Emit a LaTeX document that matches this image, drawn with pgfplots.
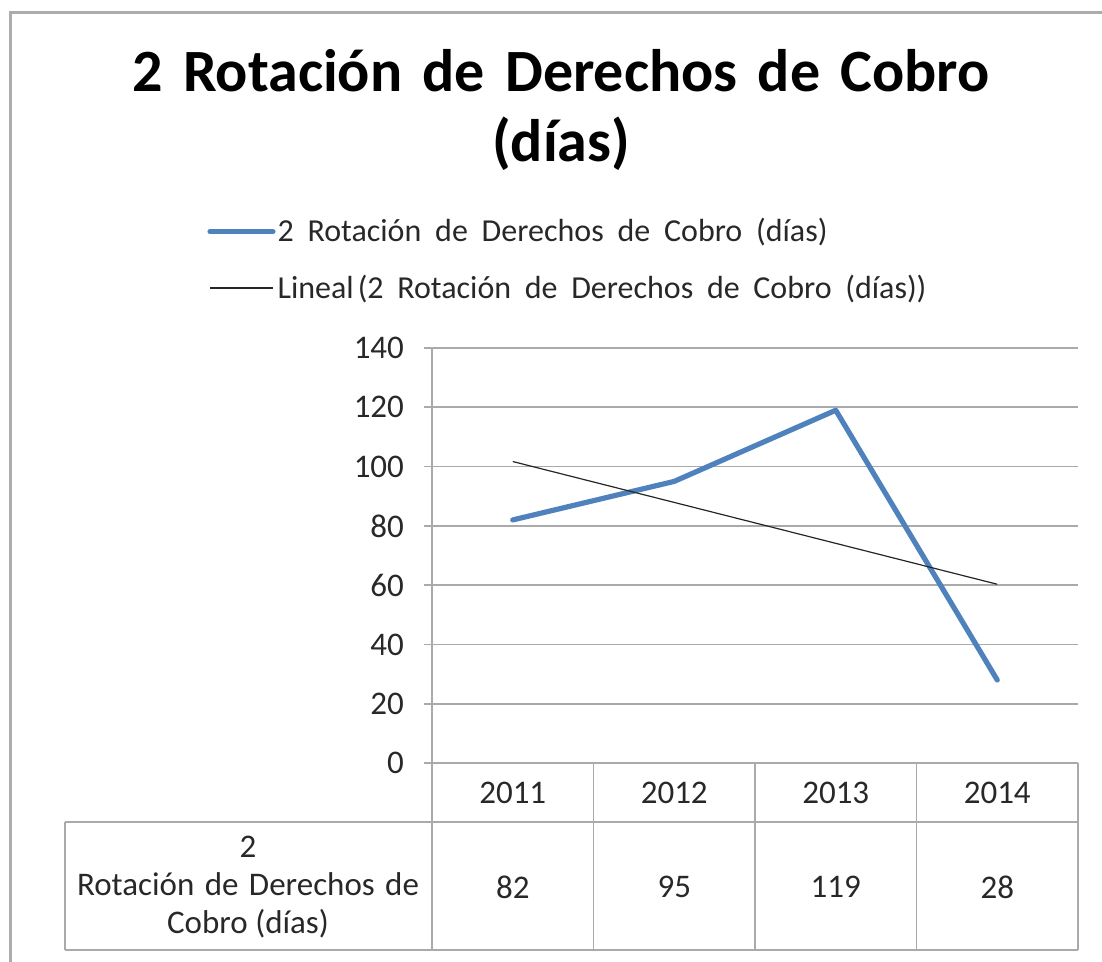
\documentclass[border=0pt]{standalone}
\usepackage{fontspec}
\setmainfont{Carlito}
\usepackage{pgfplots}
\pgfplotsset{compat=1.18}

\definecolor{serieblue}{RGB}{79,129,189}
\definecolor{gridgray}{RGB}{170,170,170}
\definecolor{txt}{RGB}{40,40,40}

% one image pixel of the reference = 0.5pt here
\begin{document}
\begin{tikzpicture}[tabfont/.style={font=\fontsize{16.5}{19}\selectfont, text=txt}]
\path[use as bounding box] (0,0) rectangle (551pt,481pt);
% outer chart frame (only left and top edges show in the crop)
\draw[gray!65, line width=1.5pt] (5pt,-2pt) -- (5pt,474.5pt) -- (553pt,474.5pt);

\node[font=\fontsize{30}{35}\selectfont\bfseries, align=center, text=black]
  at (280.5pt,426pt) {\makebox[428.5pt][s]{2 Rotación de Derechos de Cobro}\\(días)};

\begin{axis}[
  at={(216pt,99.5pt)}, anchor=south west,
  width=323pt, height=207.5pt, scale only axis,
  xmin=-0.5, xmax=3.5, ymin=0, ymax=140,
  ytick={0,20,...,140}, xtick=\empty,
  axis lines*=left,
  ymajorgrids, grid style={gridgray, line width=0.9pt},
  axis line style={gridgray, line width=0.9pt},
  tick style={gridgray, line width=0.9pt},
  ytick align=outside, major tick length=4pt,
  yticklabel style={font=\fontsize{16.5}{19}\selectfont, text=txt, xshift=-6.5pt},
  /pgf/number format/assume math mode=true,
  clip=false,
  legend style={at={(-0.3483,1.318)}, anchor=north west, draw=none, fill=none,
    inner sep=0pt, font=\fontsize{16}{19}\selectfont, text=txt, row sep=13pt,
    nodes={inner sep=1pt}},
  legend cell align=left,
  legend image code/.code={\draw[#1] (0pt,0pt) -- (31.5pt,0pt);},
  ]
  \addplot[serieblue, line width=2.6pt, line join=round, line cap=round] coordinates {
    (0,82) (1,95) (2,119) (3,28)};
  \addlegendentry{\makebox[275pt][s]{2 Rotación de Derechos de Cobro (días)}}
  % linear trend (least squares fit of the four values)
  \addplot[black!85, line width=0.6pt] coordinates {
    (0,101.7) (1,87.9) (2,74.1) (3,60.3)};
  \addlegendentry{\makebox[324.5pt][s]{Lineal\kern2pt(2 Rotación de Derechos de Cobro (días))}}

  % data table below the axis
  \draw[gridgray, line width=0.9pt]
    (axis cs:-2.7724,-19.9) -- (axis cs:3.5,-19.9)
    (axis cs:-2.7724,-63.08) -- (axis cs:3.5,-63.08)
    (axis cs:-2.7724,-19.9) -- (axis cs:-2.7724,-63.08);
  \pgfplotsinvokeforeach{-0.5,0.5,1.5,2.5,3.5}{
    \draw[gridgray, line width=0.9pt] (axis cs:#1,0) -- (axis cs:#1,-63.08);
  }
  \node[tabfont] at (axis cs:0,-10.12) {2011};
  \node[tabfont] at (axis cs:1,-10.12) {2012};
  \node[tabfont] at (axis cs:2,-10.12) {2013};
  \node[tabfont] at (axis cs:3,-10.12) {2014};
  \node[tabfont] at (axis cs:0,-41.83) {82};
  \node[tabfont] at (axis cs:1,-41.83) {95};
  \node[tabfont] at (axis cs:2,-41.83) {119};
  \node[tabfont] at (axis cs:3,-41.83) {28};
  \node[font=\fontsize{16.5}{19.2}\selectfont, text=txt, align=center]
    at (axis cs:-1.639,-41.83) {2\\\makebox[171pt][s]{Rotación de Derechos de}\\Cobro (días)};
\end{axis}
\end{tikzpicture}
\end{document}
